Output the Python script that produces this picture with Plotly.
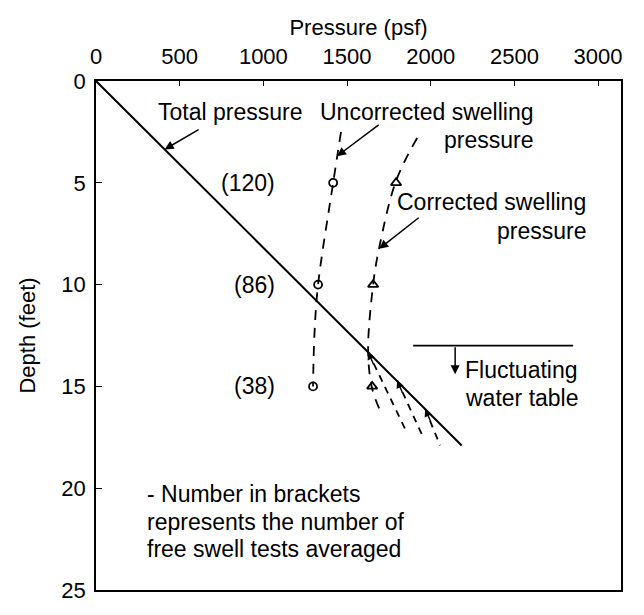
import plotly.graph_objects as go

# Axis ticks
pressure_ticks = [0, 500, 1000, 1500, 2000, 2500, 3000]
depth_ticks = [0, 5, 10, 15, 20, 25]

# Total overburden pressure with depth
total_depth = [0.0, 17.9]
total_pressure = [0, 2185]

# Swelling-pressure test results
test_depth = [5, 10, 15]
uncorr_pressure = [1417, 1327, 1297]
corr_pressure = [1793, 1656, 1650]
tests_averaged = [120, 86, 38]

# Fitted (dashed) profiles
uncorr_curve_depth = [2.5, 5.0, 10.0, 12.5, 15.0]
uncorr_curve_pressure = [1464, 1417, 1327, 1305, 1297]
corr_curve_depth = [2.8, 4.9, 8.2, 10.0, 13.3, 15.1, 16.2]
corr_curve_pressure = [1919, 1793, 1692, 1656, 1626, 1650, 1698]

# Branches below the fluctuating water table
fan_start_depth = [13.3, 14.7, 16.1]
fan_start_pressure = [1626, 1799, 1967]
fan_end_depth = [17.3, 17.5, 17.9]
fan_end_pressure = [1859, 1955, 2056]

# Water table marker
water_table_depth = 13.0
water_table_pressure = [1895, 2851]

FONT = "Liberation Sans, Arial, sans-serif"
FS = 22
AFS = 23
BLACK = "#000000"

fig = go.Figure()

fig.add_trace(go.Scatter(x=total_pressure, y=total_depth, mode="lines",
                         line=dict(color=BLACK, width=2), hoverinfo="skip"))

fig.add_trace(go.Scatter(x=uncorr_curve_pressure, y=uncorr_curve_depth, mode="lines",
                         line=dict(color=BLACK, width=1.8, dash="10px,8px", shape="spline"),
                         hoverinfo="skip"))
fig.add_trace(go.Scatter(x=corr_curve_pressure, y=corr_curve_depth, mode="lines",
                         line=dict(color=BLACK, width=1.8, dash="10px,8px", shape="spline"),
                         hoverinfo="skip"))

for x0, y0, x1, y1 in zip(fan_start_pressure, fan_start_depth, fan_end_pressure, fan_end_depth):
    fig.add_trace(go.Scatter(x=[x0, x1], y=[y0, y1], mode="lines",
                             line=dict(color=BLACK, width=1.8, dash="7px,6px"),
                             hoverinfo="skip"))

fig.add_trace(go.Scatter(x=uncorr_pressure, y=test_depth, mode="markers",
                         marker=dict(symbol="circle-open", size=8, color=BLACK,
                                     line=dict(width=1.8, color=BLACK)),
                         hoverinfo="skip"))
fig.add_trace(go.Scatter(x=corr_pressure, y=test_depth, mode="markers",
                         marker=dict(symbol="triangle-up-open", size=9, color=BLACK,
                                     line=dict(width=1.8, color=BLACK)),
                         hoverinfo="skip"))

fig.add_trace(go.Scatter(x=water_table_pressure, y=[water_table_depth] * 2, mode="lines",
                         line=dict(color=BLACK, width=1.8), hoverinfo="skip"))

txt = dict(font=dict(family=FONT, size=AFS, color=BLACK), showarrow=False,
           xref="x", yref="y", yanchor="middle")
arrow = dict(showarrow=True, arrowhead=2, arrowsize=1.2, arrowwidth=1.5,
             arrowcolor=BLACK, axref="x", ayref="y", xref="x", yref="y", text="")

annotations = [
    dict(x=801, y=1.52, text="Total pressure", xanchor="center", **txt),
    dict(x=410, y=3.36, ax=622, ay=2.35, **arrow),
    dict(x=2624, y=1.52, text="Uncorrected swelling", xanchor="right", **txt),
    dict(x=2624, y=2.92, text="pressure", xanchor="right", **txt),
    dict(x=1440, y=3.69, ax=1698, ay=2.1, **arrow),
    dict(x=2940, y=5.94, text="Corrected swelling", xanchor="right", **txt),
    dict(x=2940, y=7.38, text="pressure", xanchor="right", **txt),
    dict(x=1692, y=8.24, ax=1937, ay=6.66, **arrow),
    dict(x=2146, y=14.4, ax=2146, ay=water_table_depth, **arrow),
    dict(x=2194, y=14.18, text="Fluctuating", xanchor="left", **txt),
    dict(x=2194, y=15.55, text="water table", xanchor="left", **txt),
    dict(x=293, y=20.3, text="- Number in brackets", xanchor="left", **txt),
    dict(x=293, y=21.65, text="represents the number of", xanchor="left", **txt),
    dict(x=293, y=23.0, text="free swell tests averaged", xanchor="left", **txt),
]
for d, n in zip(test_depth, tests_averaged):
    annotations.append(dict(x=1082, y=d, text=f"({n})", xanchor="right", **txt))

# small arrowheads where the branches leave the total-pressure line
for x0, y0 in zip(fan_start_pressure, fan_start_depth):
    annotations.append(dict(x=x0, y=y0, ax=6, ay=14, showarrow=True, arrowhead=2,
                            arrowsize=1.1, arrowwidth=1.4, arrowcolor=BLACK,
                            xref="x", yref="y", text=""))

fig.update_layout(
    width=644, height=615,
    margin=dict(l=96, r=23, t=81, b=12),
    paper_bgcolor="white", plot_bgcolor="white",
    showlegend=False,
    font=dict(family=FONT, size=FS, color=BLACK),
    annotations=annotations,
)

fig.update_xaxes(
    side="top", range=[0, 3137], tickvals=pressure_ticks,
    ticktext=[str(v) for v in pressure_ticks],
    ticks="inside", ticklen=5, tickwidth=1.2, tickcolor=BLACK,
    showline=True, linecolor=BLACK, linewidth=1.8, mirror=True,
    showgrid=False, zeroline=False, ticklabelstandoff=6,
    title=dict(text="Pressure (psf)", font=dict(family=FONT, size=FS), standoff=3),
)
fig.update_yaxes(
    range=[25, 0], tickvals=depth_ticks,
    ticktext=[str(v) for v in depth_ticks],
    ticks="inside", ticklen=6, tickwidth=1.2, tickcolor=BLACK,
    showline=True, linecolor=BLACK, linewidth=1.8, mirror=True,
    showgrid=False, zeroline=False, ticklabelstandoff=4,
    title=dict(text="Depth (feet)", font=dict(family=FONT, size=FS), standoff=20),
)

fig.write_html("out.html")
